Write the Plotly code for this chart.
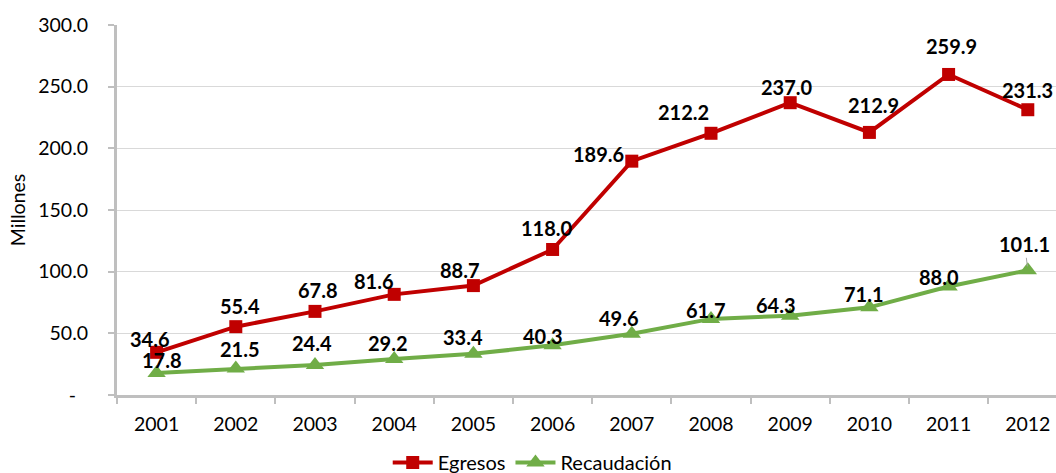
import plotly.graph_objects as go

years = ["2001", "2002", "2003", "2004", "2005", "2006", "2007", "2008", "2009", "2010", "2011", "2012"]
egresos = [34.6, 55.4, 67.8, 81.6, 88.7, 118.0, 189.6, 212.2, 237.0, 212.9, 259.9, 231.3]
recaudacion = [17.8, 21.5, 24.4, 29.2, 33.4, 40.3, 49.6, 61.7, 64.3, 71.1, 88.0, 101.1]
y_tickvals = [0, 50, 100, 150, 200, 250, 300]
y_ticktext = ["-\u2002\u2009", "50.0", "100.0", "150.0", "200.0", "250.0", "300.0"]

# label pixel offsets (style only)
eg_dx = [-7, 4, 3, -20, -13, -6, -33, -28, -3, 4, 3, 0]
eg_dy = [13, 21, 21, 13, 16, 21, 7, 21, 16, 27, 28, 20]
rc_dx = [5, 4, -3, -6, -10, -10, -13, -5, -14, -5, -10, -3]
rc_dy = [13, 19, 22, 16, 17, 9, 16, 9, 11, 13, 9, 26]

RED = "#C00000"
GREEN = "#70AD47"
FONT = "Lato"
LBL = dict(family=FONT, size=20, color="#000000")

fig = go.Figure()
fig.add_trace(go.Scatter(x=years, y=egresos, name="Egresos", mode="lines+markers",
                         line=dict(color=RED, width=4),
                         marker=dict(symbol="square", size=13, color=RED)))
fig.add_trace(go.Scatter(x=years, y=recaudacion, name="Recaudación", mode="lines+markers",
                         line=dict(color=GREEN, width=4),
                         marker=dict(symbol="triangle-up", size=16, color=GREEN)))

ann = []
for i, v in enumerate(egresos):
    ann.append(dict(x=i, y=v, xref="x", yref="y", text=f"<b>{v:.1f}</b>", showarrow=False,
                    xanchor="center", yanchor="middle",
                    xshift=eg_dx[i], yshift=eg_dy[i], font=LBL))
for i, v in enumerate(recaudacion):
    if i == len(years) - 1:
        ann.append(dict(x=i, y=v, xref="x", yref="y", text=f"<b>{v:.1f}</b>", showarrow=True,
                        arrowhead=0, arrowwidth=1, arrowcolor="#A6A6A6",
                        ax=rc_dx[i], ay=-rc_dy[i], standoff=4, font=LBL))
    else:
        ann.append(dict(x=i, y=v, xref="x", yref="y", text=f"<b>{v:.1f}</b>", showarrow=False,
                        xanchor="center", yanchor="middle",
                        xshift=rc_dx[i], yshift=rc_dy[i], font=LBL))

fig.update_layout(
    width=1056, height=473,
    margin=dict(l=117, r=0, t=25, b=78),
    paper_bgcolor="white", plot_bgcolor="white",
    font=dict(family=FONT, size=19, color="#000000"),
    showlegend=True,
    legend=dict(orientation="h", xref="container", yref="container",
                x=0.504, xanchor="center", y=0.022, yanchor="middle",
                font=dict(family=FONT, size=20), itemwidth=40, traceorder="normal"),
    annotations=ann,
    xaxis=dict(type="category", range=[-0.5, 11.356], showgrid=False,
               showline=True, linecolor="#BFBFBF", linewidth=3,
               ticks="outside", tickson="boundaries", ticklen=6, tickwidth=2, tickcolor="#BFBFBF",
               ticklabelstandoff=10, tickfont=dict(family=FONT, size=19.5)),
    yaxis=dict(range=[0, 300], tickvals=y_tickvals, ticktext=y_ticktext,
               showgrid=True, gridcolor="#D9D9D9", gridwidth=1, zeroline=False,
               showline=True, linecolor="#BFBFBF", linewidth=3,
               ticks="outside", ticklen=6, tickwidth=2, tickcolor="#BFBFBF",
               ticklabelstandoff=16, tickfont=dict(family=FONT, size=19.5),
               title=dict(text="Millones", standoff=8, font=dict(family=FONT, size=19.5))),
)

fig.write_html("out.html")
